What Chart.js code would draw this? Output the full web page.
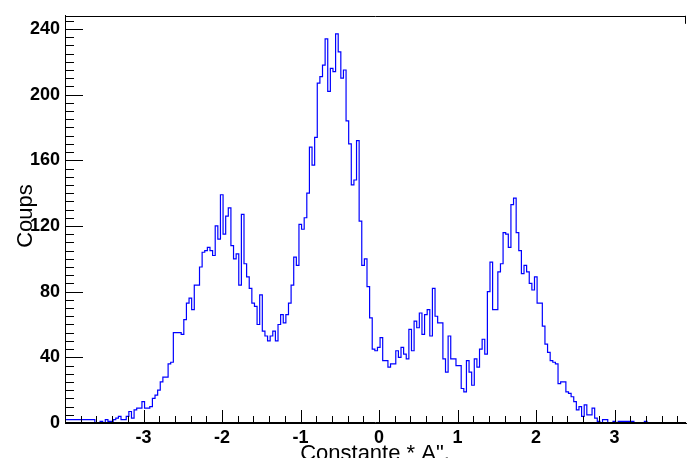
<!DOCTYPE html>
<html>
<head>
<meta charset="utf-8">
<script src="https://cdn.jsdelivr.net/npm/chart.js@4/dist/chart.umd.min.js"></script>
<style>
  html, body { margin: 0; padding: 0; background: #fff; }
  canvas { display: block; }
</style>
</head>
<body>
<canvas id="histo" width="687" height="458"></canvas>
<script>
// histogram: bins of 1/30 starting at -3.62
var binStart = -3.62;
var binWidth = 1 / 30;
var counts = [
  2, 0, 0, 1, 0, 2, 1, 1, 2, 3, 4, 2, 2, 4, 7, 3, 8, 9, 9, 13,
  9, 9, 10, 15, 17, 20, 25, 28, 28, 36, 37, 55, 55, 55, 54, 63, 73, 76, 69, 84,
  84, 95, 104, 105, 107, 105, 102, 120, 112, 139, 115, 126, 131, 108, 100, 103, 84, 127, 97, 89,
  82, 73, 71, 60, 78, 56, 53, 50, 53, 56, 50, 60, 66, 61, 66, 73, 84, 101, 96, 121,
  118, 125, 140, 168, 157, 174, 207, 211, 218, 234, 202, 216, 214, 237, 226, 210, 215, 184, 170, 145,
  148, 172, 123, 96, 100, 83, 64, 45, 44, 46, 52, 38, 38, 34, 36, 36, 44, 40, 46, 42,
  39, 57, 44, 62, 58, 67, 54, 66, 69, 53, 82, 65, 61, 61, 39, 31, 53, 39, 39, 35,
  35, 21, 19, 38, 31, 23, 39, 34, 45, 51, 42, 80, 98, 69, 69, 92, 97, 116, 115, 107,
  133, 137, 116, 105, 91, 96, 92, 85, 81, 89, 73, 73, 59, 48, 43, 38, 37, 36, 24, 25,
  25, 19, 18, 16, 13, 8, 10, 4, 11, 5, 5, 9, 3, 1, 0, 2, 2, 0, 0, 1,
  0, 1, 1, 1, 1, 1, 1, 0, 0, 0, 0, 1
];
var xTickValues = [-3, -2, -1, 0, 1, 2, 3];
var yTickValues = [0, 40, 80, 120, 160, 200, 240];
var xMin = -4, xMax = 3.91;
var yMax = 248;

var points = [{ x: xMin, y: 0 }];
counts.forEach(function (c, i) {
  points.push({ x: binStart + i * binWidth, y: c });
});
points.push({ x: binStart + counts.length * binWidth, y: 0 });
points.push({ x: xMax, y: 0 });

var labelFont = { family: "'Liberation Sans', Arial, sans-serif", size: 18, weight: "bold" };

// frame + ROOT-style inner ticks + axis titles
var rootFrame = {
  id: "rootFrame",
  afterDraw: function (chart) {
    var ctx = chart.ctx;
    var a = chart.chartArea;
    var x = chart.scales.x, y = chart.scales.y;
    ctx.save();
    ctx.strokeStyle = "#000";
    ctx.lineWidth = 1;
    ctx.beginPath();
    // frame: top, bottom (drawn over the empty bins) and left
    ctx.moveTo(a.left, Math.round(a.top) + 0.5);
    ctx.lineTo(a.right, Math.round(a.top) + 0.5);
    ctx.moveTo(a.left, Math.round(a.bottom) - 0.5);
    ctx.lineTo(a.right, Math.round(a.bottom) - 0.5);
    ctx.moveTo(Math.round(a.left) + 0.5, a.top);
    ctx.lineTo(Math.round(a.left) + 0.5, a.bottom);
    ctx.moveTo(Math.round(a.right) - 0.5, a.top);
    ctx.lineTo(Math.round(a.right) - 0.5, a.top + 8);
    for (var v = 0; v <= yMax; v += 5) {
      var py = Math.round(y.getPixelForValue(v)) + 0.5;
      var len = v % 40 === 0 ? 18 : 9;
      ctx.moveTo(a.left, py);
      ctx.lineTo(a.left + len, py);
    }
    for (var k = -20; k <= 19; k++) {
      var px = Math.round(x.getPixelForValue(k / 5)) + 0.5;
      var l = k % 5 === 0 ? 13 : 7;
      ctx.moveTo(px, a.bottom);
      ctx.lineTo(px, a.bottom - l);
    }
    ctx.stroke();

    ctx.fillStyle = "#000";
    ctx.font = "22px 'Liberation Sans', Arial, sans-serif";
    ctx.textAlign = "center";
    ctx.textBaseline = "alphabetic";
    ctx.fillText('Constante * A",', 375, 460);
    ctx.translate(32, 216);
    ctx.rotate(-Math.PI / 2);
    ctx.fillText("Coups", 0, 0);
    ctx.restore();
  }
};

new Chart(document.getElementById("histo"), {
  type: "line",
  data: {
    datasets: [{
      data: points,
      borderColor: "#0000ff",
      borderWidth: 1.2,
      pointRadius: 0,
      stepped: "after",
      fill: false
    }]
  },
  options: {
    responsive: false,
    animation: false,
    devicePixelRatio: 1,
    layout: { padding: { top: 14, right: 1, left: 0, bottom: 0 } },
    plugins: { legend: { display: false }, tooltip: { enabled: false } },
    scales: {
      x: {
        type: "linear",
        min: xMin,
        max: xMax,
        grid: { display: false, drawTicks: false },
        border: { display: true, color: "#000", width: 1 },
        afterBuildTicks: function (s) {
          s.ticks = xTickValues.map(function (v) { return { value: v }; });
        },
        afterFit: function (s) { s.height = 35; },
        ticks: { color: "#000", font: labelFont, padding: 4, maxRotation: 0 }
      },
      y: {
        min: 0,
        max: yMax,
        grid: { display: false, drawTicks: false },
        border: { display: true, color: "#000", width: 1 },
        afterBuildTicks: function (s) {
          s.ticks = yTickValues.map(function (v) { return { value: v }; });
        },
        afterFit: function (s) { s.width = 65; },
        ticks: { color: "#000", font: labelFont, padding: 5 }
      }
    }
  },
  plugins: [rootFrame]
});
</script>
</body>
</html>
